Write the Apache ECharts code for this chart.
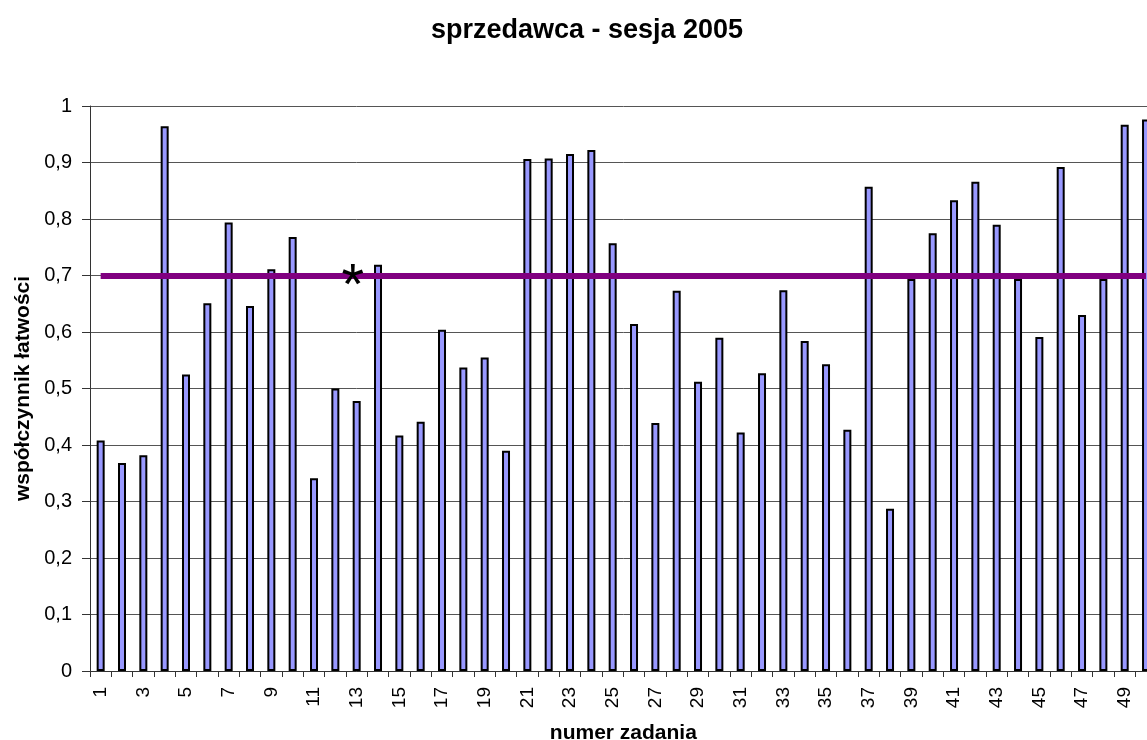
<!DOCTYPE html>
<html>
<head>
<meta charset="utf-8">
<script src="https://cdn.jsdelivr.net/npm/echarts@6/dist/echarts.min.js"></script>
<style>
  html, body { margin: 0; padding: 0; overflow: hidden; background: #fff; }
  #chart { width: 1174px; height: 740px; }
</style>
</head>
<body>
<div id="chart"></div>
<script>
// numery zadań
const tasks = ["1","2","3","4","5","6","7","8","9","10","11","12","13","14","15","16","17","18","19","20",
  "21","22","23","24","25","26","27","28","29","30","31","32","33","34","35","36","37","38","39","40",
  "41","42","43","44","45","46","47","48","49","50"];
// współczynnik łatwości
const easiness = [0.408, 0.368, 0.382, 0.964, 0.525, 0.651, 0.794, 0.646, 0.711, 0.768,
  0.341, 0.500, 0.478, 0.719, 0.417, 0.441, 0.604, 0.537, 0.555, 0.390,
  0.906, 0.907, 0.915, 0.922, 0.757, 0.614, 0.439, 0.673, 0.512, 0.590,
  0.422, 0.527, 0.674, 0.584, 0.543, 0.427, 0.857, 0.287, 0.694, 0.775,
  0.833, 0.866, 0.790, 0.694, 0.591, 0.892, 0.630, 0.694, 0.967, 0.976];
// próg łatwości
const threshold = 0.7;
const starTask = "13";
const starValue = 0.706;

const FONT = "Liberation Sans, Arial, sans-serif";

let chart = echarts.init(document.getElementById("chart"));
let option = {
  backgroundColor: "#fff",
  animation: false,
  title: {
    text: "sprzedawca - sesja 2005",
    left: "center",
    top: 12,
    textStyle: { fontFamily: FONT, fontSize: 27, fontWeight: "bold", color: "#000" }
  },
  grid: { left: 90, right: 17.3, top: 106, bottom: 69, outerBoundsMode: "none", containLabel: false },
  xAxis: {
    type: "category",
    data: tasks,
    name: "numer zadania",
    nameLocation: "middle",
    nameGap: 52,
    nameTextStyle: { fontFamily: FONT, fontSize: 21, fontWeight: "bold", color: "#000" },
    axisLine: { lineStyle: { color: "#333", width: 1 } },
    axisTick: { show: true, interval: 0, length: 6, lineStyle: { color: "#333" } },
    axisLabel: {
      interval: 1,
      rotate: 90,
      margin: 16,
      fontFamily: FONT,
      fontSize: 19,
      color: "#000"
    },
    splitLine: { show: false }
  },
  yAxis: {
    type: "value",
    min: 0,
    max: 1,
    interval: 0.1,
    name: "współczynnik łatwości",
    nameLocation: "middle",
    nameGap: 56,
    nameTextStyle: { fontFamily: FONT, fontSize: 21, fontWeight: "bold", color: "#000" },
    axisLine: { show: true, lineStyle: { color: "#333", width: 1 } },
    axisTick: { show: true, length: 8, lineStyle: { color: "#333" } },
    axisLabel: {
      margin: 18,
      fontFamily: FONT,
      fontSize: 20,
      color: "#000",
      formatter: function (v) {
        return String(Math.round(v * 10) / 10).replace(".", ",");
      }
    },
    splitLine: { show: true, lineStyle: { color: "#555", width: 1 } }
  },
  series: [
    {
      type: "bar",
      data: easiness,
      barWidth: 8,
      itemStyle: { color: "#9999FF", borderColor: "#000", borderWidth: 2 },
      markLine: {
        silent: true,
        symbol: "none",
        label: { show: false },
        lineStyle: { color: "#800080", width: 6, type: "solid" },
        data: [[{ coord: ["1", threshold] }, { coord: ["50", threshold] }]]
      },
      markPoint: {
        silent: true,
        symbol: "circle",
        symbolSize: 0,
        data: [{ coord: [starTask, starValue] }],
        label: {
          show: true,
          formatter: "*",
          offset: [-4, 16],
          fontFamily: FONT,
          fontSize: 58,
          color: "#000"
        }
      }
    }
  ]
};
chart.setOption(option);
</script>
</body>
</html>
